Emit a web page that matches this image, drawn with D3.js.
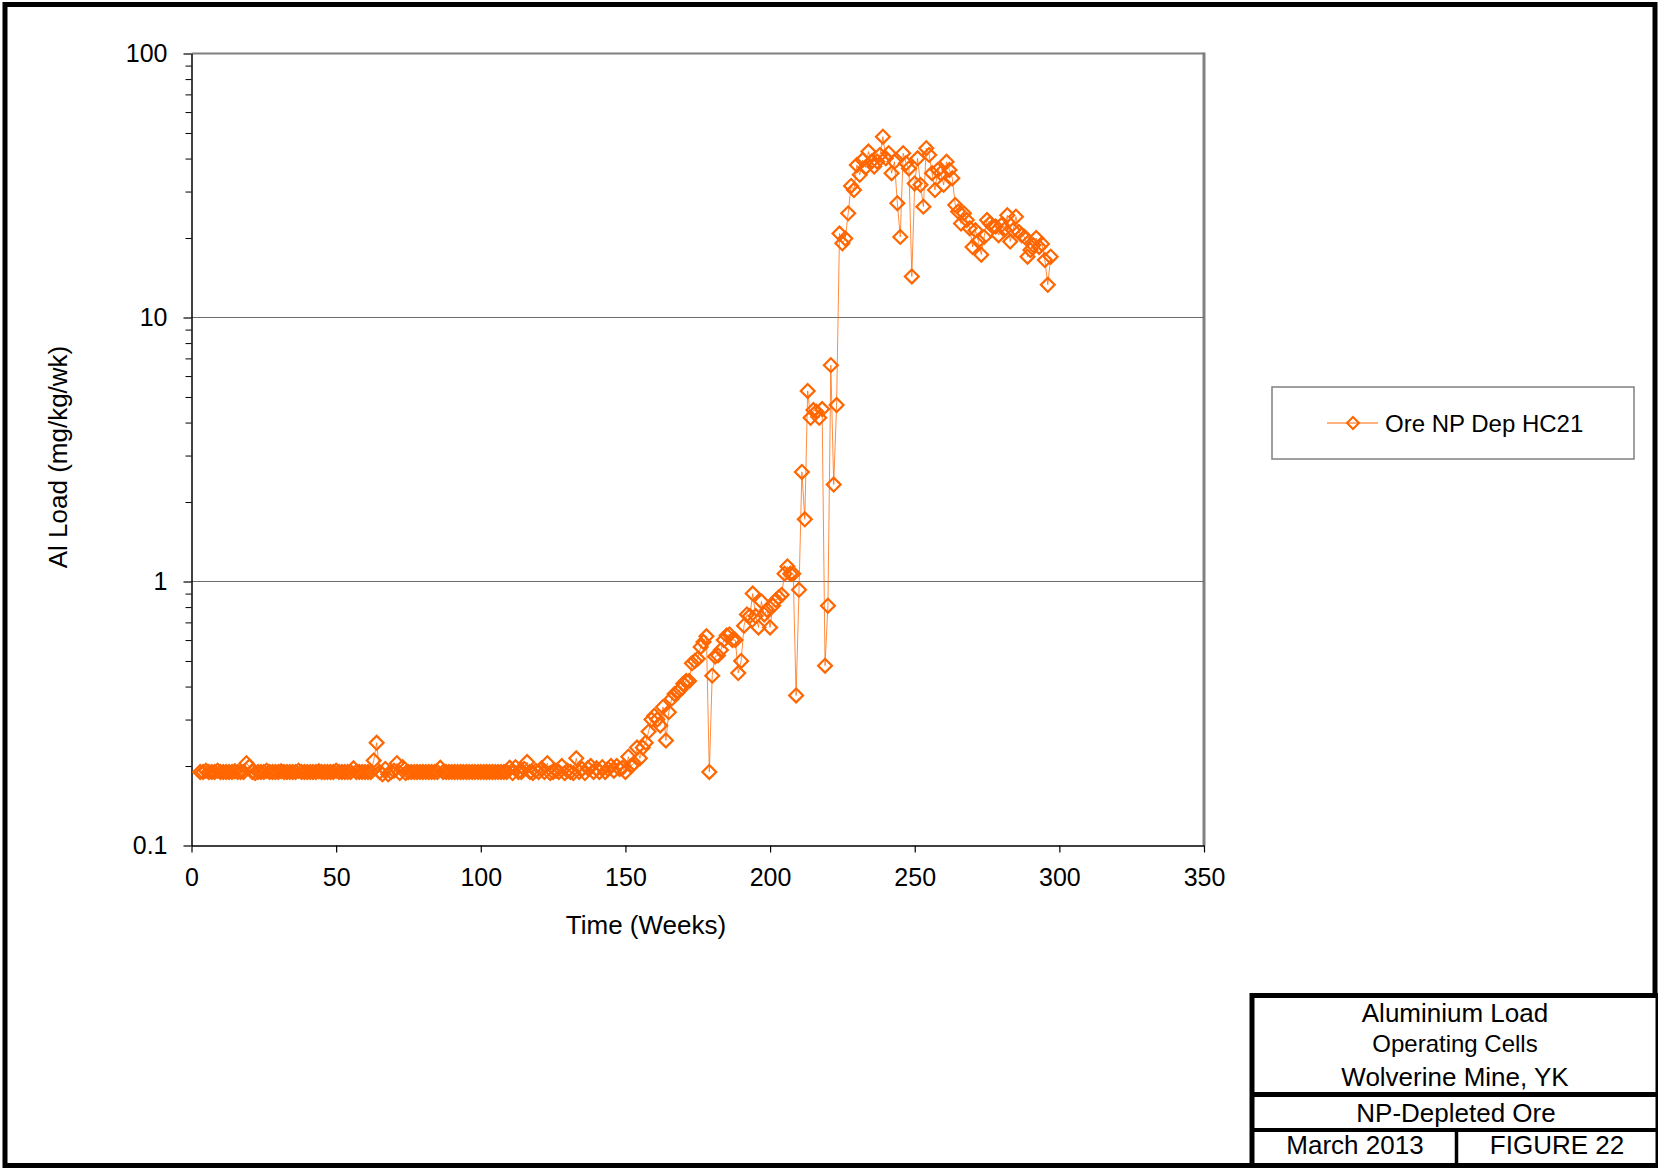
<!DOCTYPE html>
<html lang="en">
<head>
<meta charset="utf-8">
<script src="https://d3js.org/d3.v7.min.js"></script>
<style>
body { margin: 0; background: #fff; }
svg { display: block; font-family: Arial, "Liberation Sans", sans-serif; }
</style>
</head>
<body>
<script>
// weekly Al load, first value is week 3
var firstWeek = 3;
var alLoad = [
  0.19,0.19,0.192,0.19,0.19,0.19,0.192,0.19,0.19,0.19,
  0.19,0.19,0.191,0.19,0.19,0.19,0.205,0.199,0.19,0.188,
  0.19,0.19,0.19,0.192,0.19,0.19,0.19,0.19,0.191,0.19,
  0.19,0.19,0.19,0.19,0.192,0.19,0.19,0.19,0.19,0.19,
  0.19,0.191,0.19,0.19,0.19,0.19,0.19,0.192,0.19,0.19,
  0.19,0.19,0.19,0.196,0.19,0.19,0.19,0.19,0.19,0.19,
  0.21,0.245,0.19,0.186,0.195,0.186,0.19,0.192,0.205,0.188,
  0.198,0.188,0.19,0.19,0.19,0.19,0.19,0.19,0.19,0.19,
  0.19,0.19,0.19,0.197,0.19,0.19,0.19,0.19,0.19,0.19,
  0.19,0.19,0.19,0.19,0.19,0.19,0.19,0.19,0.19,0.19,
  0.19,0.19,0.19,0.19,0.19,0.19,0.19,0.197,0.188,0.198,
  0.19,0.19,0.195,0.207,0.19,0.188,0.192,0.19,0.196,0.19,
  0.205,0.188,0.19,0.192,0.19,0.2,0.188,0.192,0.19,0.188,
  0.214,0.19,0.195,0.188,0.196,0.2,0.19,0.196,0.19,0.198,
  0.19,0.195,0.2,0.192,0.2,0.195,
  0.197,0.19,0.217,0.2,0.205,0.235,0.214,0.235,0.245,0.27,
  0.30,0.31,0.30,0.285,0.335,0.25,0.32,0.36,0.375,0.38,
  0.39,0.41,0.42,0.42,0.49,0.50,0.51,0.565,0.59,0.62,
  0.19,0.44,0.52,0.525,0.55,0.60,0.625,0.63,0.60,0.60,
  0.45,0.50,0.68,0.75,0.74,0.90,0.74,0.67,0.84,0.75,
  0.78,0.67,0.81,0.85,0.87,0.89,1.07,1.14,1.07,1.07,
  0.37,0.93,2.6,1.72,5.27,4.17,4.46,4.4,4.17,4.5,
  0.48,0.81,6.6,2.33,4.66,20.8,19.1,19.9,24.8,31.5,
  30.4,37.8,34.7,39.5,37,42.5,38.9,37.3,39,41.3,
  48.4,40.1,41.9,35.2,38.9,27.1,20.2,41.9,38.4,36.7,
  14.3,32.2,40.1,31.8,26.3,43.8,41.3,35.2,30.4,36.2,
  35.2,31.8,38.9,36.2,33.7,26.7,25.2,22.7,24.8,23.4,
  21.8,18.5,21.4,19.5,17.3,20.2,23.4,22.7,22.1,22.1,
  20.5,22.4,21.5,24.4,19.4,21.4,24.1,21.1,20.5,20.2,
  17.0,18.0,18.8,20.0,18.5,19.0,16.5,13.3,17.0
];
var xTicks = [0, 50, 100, 150, 200, 250, 300, 350];
var yTicks = [0.1, 1, 10, 100];
var gridValues = [1, 10];
var minorMult = [2, 3, 4, 5, 6, 7, 8, 9];
var seriesName = "Ore NP Dep HC21";
var xTitle = "Time (Weeks)";
var yTitle = "Al Load (mg/kg/wk)";
var titleTop = ["Aluminium Load", "Operating Cells", "Wolverine Mine, YK"];
var subTitle = "NP-Depleted Ore";
var dateText = "March 2013";
var figText = "FIGURE 22";

var orange = "#ff6600";

var data = alLoad.map(function (v, i) { return {week: firstWeek + i, value: v}; });

var svg = d3.select("body").append("svg")
  .attr("width", 1658)
  .attr("height", 1170);

var plot = {left: 191.5, right: 1204, top: 53.5, bottom: 845.5};

var x = d3.scaleLinear().domain([0, 350]).range([plot.left, plot.right]);
var y = d3.scaleLog().domain([0.1, 100]).range([plot.bottom, plot.top]);

// outer frame
svg.append("rect")
  .attr("x", 5).attr("y", 4.5)
  .attr("width", 1650).attr("height", 1161)
  .attr("fill", "none").attr("stroke", "#000").attr("stroke-width", 5);

// plot frame top / right (grey)
svg.append("line")
  .attr("x1", plot.left).attr("x2", plot.right)
  .attr("y1", plot.top).attr("y2", plot.top)
  .attr("stroke", "#808080").attr("stroke-width", 2);
svg.append("line")
  .attr("x1", plot.right).attr("x2", plot.right)
  .attr("y1", plot.top - 1).attr("y2", plot.bottom)
  .attr("stroke", "#808080").attr("stroke-width", 3);

// gridlines
svg.selectAll(".grid")
  .data(gridValues)
  .enter().append("line")
  .attr("class", "grid")
  .attr("x1", plot.left).attr("x2", plot.right)
  .attr("y1", function (d) { return y(d); })
  .attr("y2", function (d) { return y(d); })
  .attr("stroke", "#6e6e6e").attr("stroke-width", 1);

// minor ticks on the log axis
var minorVals = [];
[0.1, 1, 10].forEach(function (dec) {
  minorMult.forEach(function (m) { minorVals.push(dec * m); });
});
svg.append("g")
  .attr("transform", "translate(" + plot.left + ",0)")
  .call(d3.axisLeft(y).tickValues(minorVals).tickSize(6).tickFormat(""))
  .call(function (g) { g.select(".domain").remove(); })
  .selectAll("line").attr("stroke", "#000").attr("stroke-width", 1);

// y axis
var yAxis = svg.append("g")
  .attr("transform", "translate(" + plot.left + ",0)")
  .call(d3.axisLeft(y).tickValues(yTicks).tickSize(8).tickSizeOuter(0).tickPadding(16)
    .tickFormat(function (d) { return String(d); }));
yAxis.select(".domain").attr("stroke", "#000").attr("stroke-width", 1.5);
yAxis.selectAll("line").attr("stroke", "#000").attr("stroke-width", 1.2);
yAxis.selectAll("text")
  .attr("font-size", "25px").attr("fill", "#000")
  .attr("font-family", "Arial, 'Liberation Sans', sans-serif");

// x axis
var xAxis = svg.append("g")
  .attr("transform", "translate(0," + plot.bottom + ")")
  .call(d3.axisBottom(x).tickValues(xTicks).tickSize(7).tickSizeOuter(0).tickPadding(16));
xAxis.select(".domain").attr("stroke", "#000").attr("stroke-width", 1.5);
xAxis.selectAll("line").attr("stroke", "#000").attr("stroke-width", 1.2);
xAxis.selectAll("text")
  .attr("font-size", "25px").attr("fill", "#000")
  .attr("font-family", "Arial, 'Liberation Sans', sans-serif");

// axis titles
svg.append("text")
  .attr("x", 646).attr("y", 934)
  .attr("text-anchor", "middle")
  .style("font-size", "26px")
  .text(xTitle);
svg.append("text")
  .attr("transform", "translate(67,457) rotate(-90)")
  .attr("text-anchor", "middle")
  .style("font-size", "26px")
  .text(yTitle);

// series
var line = d3.line()
  .x(function (d) { return x(d.week); })
  .y(function (d) { return y(d.value); });

svg.append("path")
  .datum(data)
  .attr("d", line)
  .attr("fill", "none")
  .attr("stroke", orange)
  .attr("stroke-width", 1)
  .attr("stroke-opacity", 0.75);

var diamond = d3.symbol().type(d3.symbolSquare).size(96);

svg.selectAll(".pt")
  .data(data)
  .enter().append("path")
  .attr("class", "pt")
  .attr("d", diamond)
  .attr("transform", function (d) { return "translate(" + x(d.week) + "," + y(d.value) + ") rotate(45)"; })
  .attr("fill", "none")
  .attr("stroke", orange)
  .attr("stroke-width", 2.2);

// legend
var legend = svg.append("g");
legend.append("rect")
  .attr("x", 1272).attr("y", 387)
  .attr("width", 362).attr("height", 72)
  .attr("fill", "#fff").attr("stroke", "#808080").attr("stroke-width", 1.5);
legend.append("line")
  .attr("x1", 1327).attr("x2", 1378)
  .attr("y1", 423).attr("y2", 423)
  .attr("stroke", orange).attr("stroke-width", 1);
legend.append("path")
  .attr("d", d3.symbol().type(d3.symbolSquare).size(72))
  .attr("transform", "translate(1353,423) rotate(45)")
  .attr("fill", "none").attr("stroke", orange).attr("stroke-width", 2);
legend.append("text")
  .attr("x", 1385).attr("y", 432)
  .style("font-size", "24px")
  .text(seriesName);

// title block
var tb = svg.append("g");
tb.append("rect")
  .attr("x", 1252).attr("y", 995.5)
  .attr("width", 406).attr("height", 170)
  .attr("fill", "#fff").attr("stroke", "#000").attr("stroke-width", 5);
tb.append("line")
  .attr("x1", 1250).attr("x2", 1658).attr("y1", 1094.5).attr("y2", 1094.5)
  .attr("stroke", "#000").attr("stroke-width", 5);
tb.append("line")
  .attr("x1", 1250).attr("x2", 1658).attr("y1", 1130).attr("y2", 1130)
  .attr("stroke", "#000").attr("stroke-width", 4);
tb.append("line")
  .attr("x1", 1456.5).attr("x2", 1456.5).attr("y1", 1130).attr("y2", 1165)
  .attr("stroke", "#000").attr("stroke-width", 3.5);

var tbSizes = ["26px", "24px", "26px"];
var tbBase = [1022, 1052, 1086];
tb.selectAll(".tt")
  .data(titleTop)
  .enter().append("text")
  .attr("class", "tt")
  .attr("x", 1455)
  .attr("y", function (d, i) { return tbBase[i]; })
  .attr("text-anchor", "middle")
  .style("font-size", function (d, i) { return tbSizes[i]; })
  .text(function (d) { return d; });
tb.append("text")
  .attr("x", 1456).attr("y", 1122)
  .attr("text-anchor", "middle").style("font-size", "26px")
  .text(subTitle);
tb.append("text")
  .attr("x", 1355).attr("y", 1154)
  .attr("text-anchor", "middle").style("font-size", "26px")
  .text(dateText);
tb.append("text")
  .attr("x", 1557).attr("y", 1154)
  .attr("text-anchor", "middle").style("font-size", "26px")
  .text(figText);
</script>
</body>
</html>
